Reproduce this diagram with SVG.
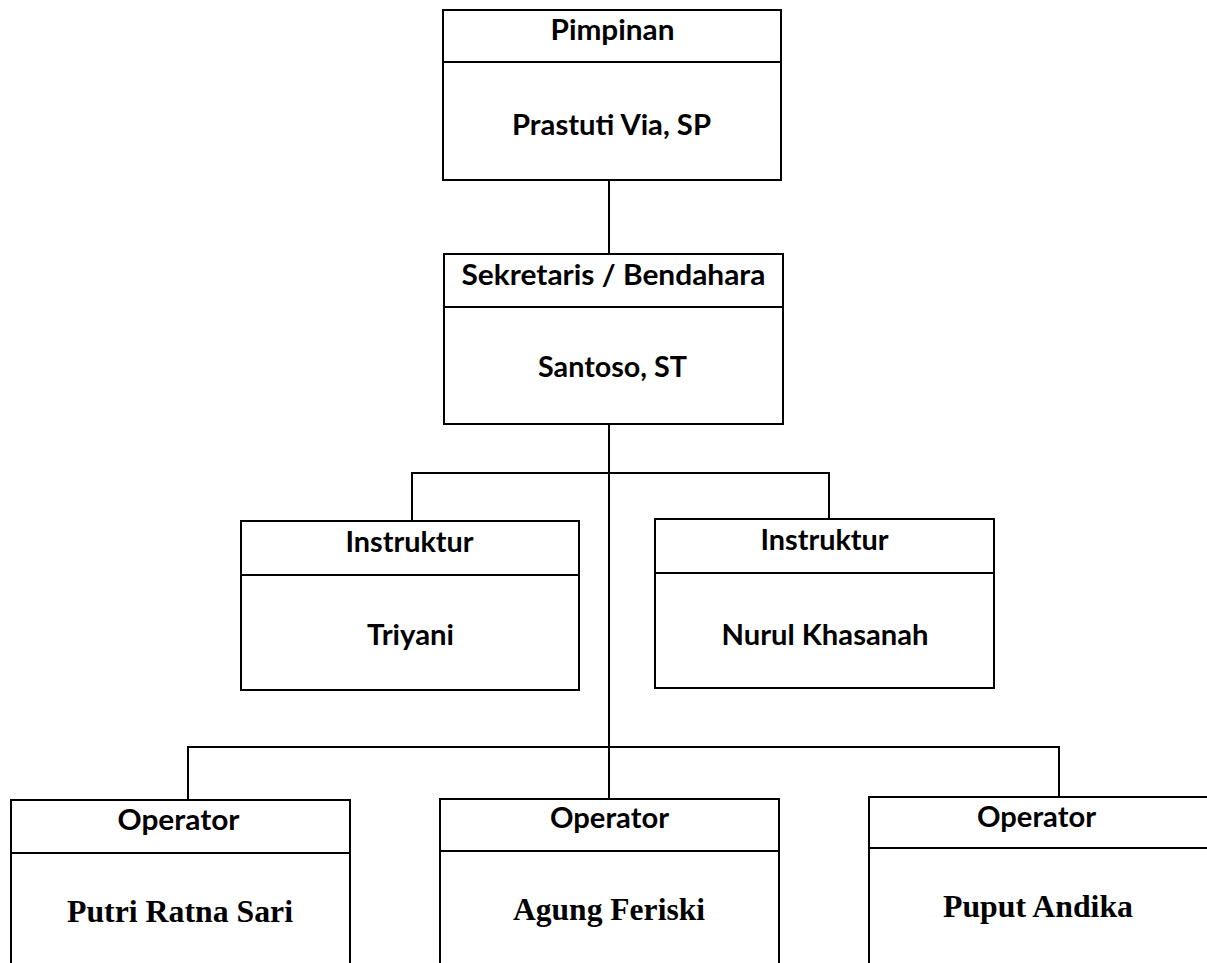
<svg xmlns="http://www.w3.org/2000/svg" width="1207" height="963" viewBox="0 0 1207 963">
<style>
.box{fill:#fff;stroke:#000;stroke-width:2}
.conn{fill:none;stroke:#000;stroke-width:2}
.sans{font-family:Lato,"Open Sans","Liberation Sans",sans-serif;font-weight:bold;font-size:29px;fill:#000;text-anchor:middle}
.serif{font-family:"Liberation Serif","Times New Roman",serif;font-weight:bold;font-size:31px;fill:#000;text-anchor:middle}
</style>
<rect width="1207" height="963" fill="#fff"/>
<g id="connectors">
<line class="conn" x1="609" y1="180" x2="609" y2="254"/>
<line class="conn" x1="609" y1="424" x2="609" y2="799"/>
<polyline class="conn" points="412,521 412,473 829,473 829,519"/>
<polyline class="conn" points="188,800 188,747 1059,747 1059,797"/>
</g>
<g id="pimpinan">
<rect class="box" x="443" y="10" width="338" height="170"/>
<line class="conn" x1="443" y1="62" x2="781" y2="62"/>
<text class="sans" x="612.5" y="40" textLength="124" lengthAdjust="spacingAndGlyphs">Pimpinan</text>
<text class="sans" x="611.5" y="135" textLength="199" lengthAdjust="spacingAndGlyphs">Prastuti Via, SP</text>
</g>
<g id="sekretaris">
<rect class="box" x="444" y="254" width="339" height="170"/>
<line class="conn" x1="444" y1="307" x2="783" y2="307"/>
<text class="sans" x="613.5" y="285" textLength="304" lengthAdjust="spacingAndGlyphs">Sekretaris / Bendahara</text>
<text class="sans" x="612.5" y="377" textLength="149" lengthAdjust="spacingAndGlyphs">Santoso, ST</text>
</g>
<g id="instruktur1">
<rect class="box" x="241" y="521" width="338" height="169"/>
<line class="conn" x1="241" y1="575" x2="579" y2="575"/>
<text class="sans" x="409.5" y="552" textLength="128" lengthAdjust="spacingAndGlyphs">Instruktur</text>
<text class="sans" x="410.5" y="645" textLength="87" lengthAdjust="spacingAndGlyphs">Triyani</text>
</g>
<g id="instruktur2">
<rect class="box" x="655" y="519" width="339" height="169"/>
<line class="conn" x1="655" y1="573" x2="994" y2="573"/>
<text class="sans" x="824.5" y="550" textLength="128" lengthAdjust="spacingAndGlyphs">Instruktur</text>
<text class="sans" x="825" y="645" textLength="207" lengthAdjust="spacingAndGlyphs">Nurul Khasanah</text>
</g>
<g id="operator1">
<rect class="box" x="11" y="800" width="339" height="200"/>
<line class="conn" x1="11" y1="853" x2="350" y2="853"/>
<text class="sans" x="178.5" y="830" textLength="122" lengthAdjust="spacingAndGlyphs">Operator</text>
<text class="serif" x="180" y="922" textLength="226" lengthAdjust="spacingAndGlyphs">Putri Ratna Sari</text>
</g>
<g id="operator2">
<rect class="box" x="440" y="799" width="339" height="200"/>
<line class="conn" x1="440" y1="851" x2="779" y2="851"/>
<text class="sans" x="609.5" y="828" textLength="119" lengthAdjust="spacingAndGlyphs">Operator</text>
<text class="serif" x="609" y="920" textLength="192" lengthAdjust="spacingAndGlyphs">Agung Feriski</text>
</g>
<g id="operator3">
<rect class="box" x="869" y="797" width="345" height="200"/>
<line class="conn" x1="869" y1="848" x2="1214" y2="848"/>
<text class="sans" x="1036.5" y="827" textLength="119" lengthAdjust="spacingAndGlyphs">Operator</text>
<text class="serif" x="1038" y="917" textLength="190" lengthAdjust="spacingAndGlyphs">Puput Andika</text>
</g>
</svg>
